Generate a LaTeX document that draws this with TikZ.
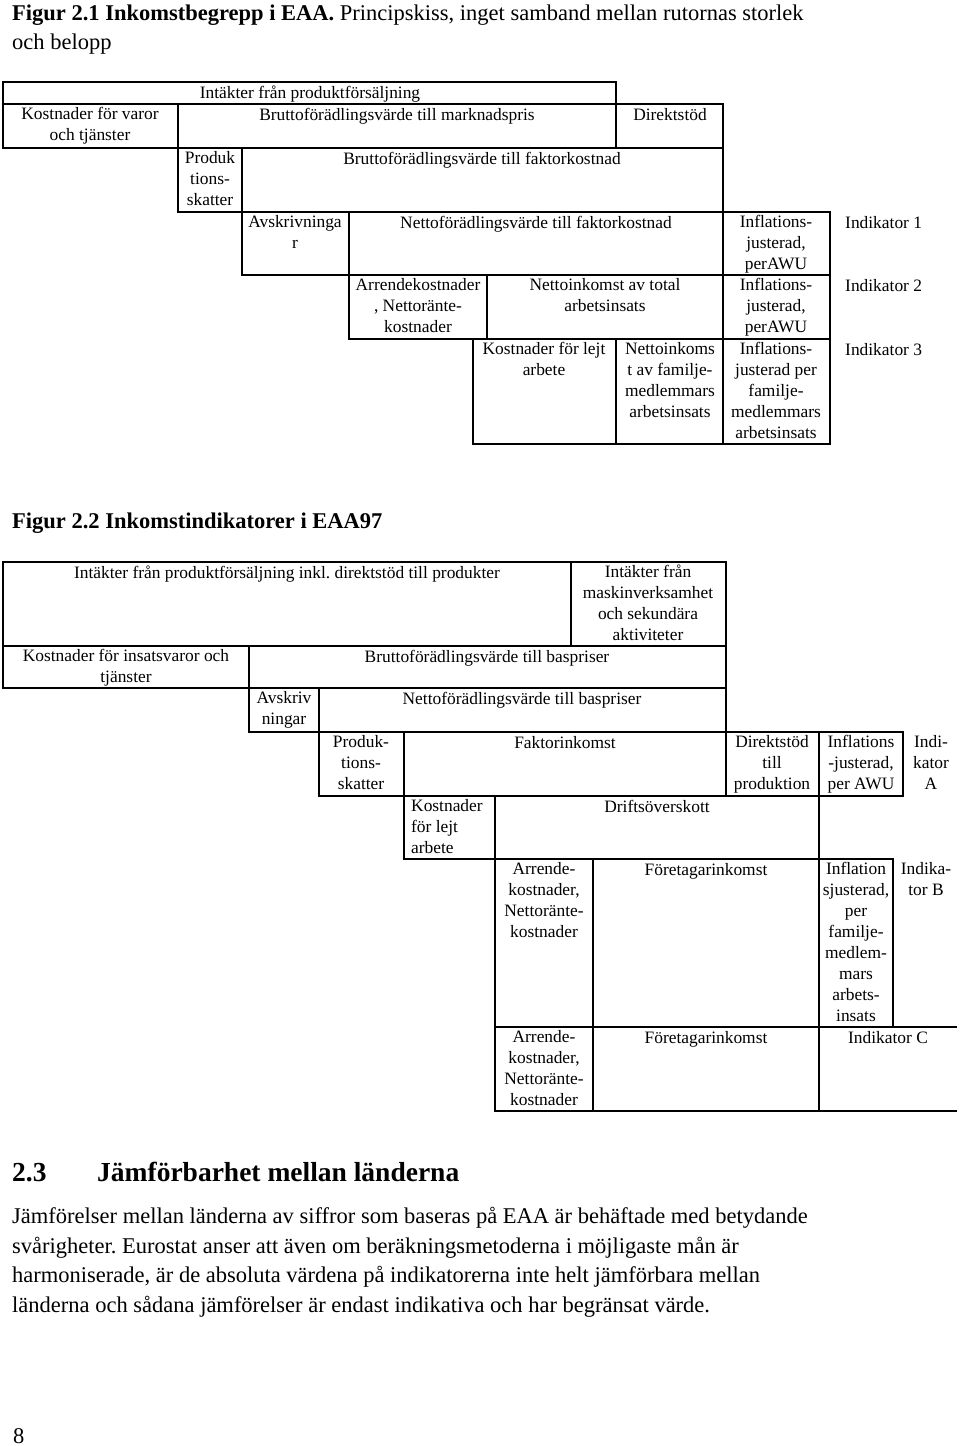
\documentclass[tikz,border=0pt]{standalone}
\usepackage{fontspec}
\setmainfont{Liberation Serif}
\frenchspacing
\usetikzlibrary{positioning}
\tikzstyle{box} = [line width=1.7pt]
\tikzstyle{celltext} = [font=\fontsize{17.4}{21}\selectfont, align=center, anchor=north, inner sep=0pt, execute at begin node=\rule{0pt}{13pt}]
\tikzstyle{pagetext} = [font=\fontsize{22.5}{29.7}\selectfont, anchor=base west, inner sep=0pt]

\begin{document}
\begin{tikzpicture}[x=1pt, y=-1pt]
        \useasboundingbox (0,0) rectangle (960,1446);

        % page texts
        \node[pagetext](title1) at (12,20) {\textbf{Figur 2.1 Inkomstbegrepp i EAA.} Principskiss, inget samband mellan rutornas storlek};
        \node[pagetext](title1b) at (12,49) {och belopp};
        \node[pagetext](title2) at (12,528) {\textbf{Figur 2.2 Inkomstindikatorer i EAA97}};

        % figure 2.1, boxes
        \draw[box] (3,82) rectangle (616,104);
        \draw[box] (3,104) rectangle (178,148);
        \draw[box] (178,104) rectangle (616,148);
        \draw[box] (616,104) rectangle (723,148);
        \draw[box] (178,148) rectangle (242,212);
        \draw[box] (242,148) rectangle (723,212);
        \draw[box] (242,212) rectangle (349,275);
        \draw[box] (349,212) rectangle (723,275);
        \draw[box] (723,212) rectangle (830,275);
        \draw[box] (349,275) rectangle (487,339);
        \draw[box] (487,275) rectangle (723,339);
        \draw[box] (723,275) rectangle (830,339);
        \draw[box] (473,339) rectangle (616,444);
        \draw[box] (616,339) rectangle (723,444);
        \draw[box] (723,339) rectangle (830,444);

        % figure 2.1, texts
        \node[celltext](intakt) at (310,85) {Intäkter från produktförsäljning};
        \node[celltext](varor) at (90,107) {Kostnader för varor\\och tjänster};
        \node[celltext](bfvmp) at (397,107) {Bruttoförädlingsvärde till marknadspris};
        \node[celltext](dstod) at (670,107) {Direktstöd};
        \node[celltext](pskatt) at (210,151) {Produk\\tions-\\skatter};
        \node[celltext](bfvfk) at (482,151) {Bruttoförädlingsvärde till faktorkostnad};
        \node[celltext](avskr) at (295,215) {Avskrivninga\\r};
        \node[celltext](nfvfk) at (536,215) {Nettoförädlingsvärde till faktorkostnad};
        \node[celltext](infl1) at (776,215) {Inflations-\\justerad,\\perAWU};
        \node[celltext](arr) at (418,278) {Arrendekostnader\\, Nettoränte-\\kostnader};
        \node[celltext](nitot) at (605,278) {Nettoinkomst av total\\arbetsinsats};
        \node[celltext](infl2) at (776,278) {Inflations-\\justerad,\\perAWU};
        \node[celltext](lejt) at (544,342) {Kostnader för lejt\\arbete};
        \node[celltext](nifam) at (670,342) {Nettoinkoms\\t av familje-\\medlemmars\\arbetsinsats};
        \node[celltext](infl3) at (776,342) {Inflations-\\justerad per\\familje-\\medlemmars\\arbetsinsats};

        % indicators for figure 2.1
        \node[celltext, anchor=north west](ind1) at (845,215) {Indikator 1};
        \node[celltext, anchor=north west](ind2) at (845,278) {Indikator 2};
        \node[celltext, anchor=north west](ind3) at (845,342) {Indikator 3};

        % figure 2.2, boxes
        \draw[box] (3,562) rectangle (571,646);
        \draw[box] (571,562) rectangle (726,646);
        \draw[box] (3,646) rectangle (249,688);
        \draw[box] (249,646) rectangle (726,688);
        \draw[box] (249,688) rectangle (319,732);
        \draw[box] (319,688) rectangle (726,732);
        \draw[box] (319,732) rectangle (404,796);
        \draw[box] (404,732) rectangle (726,796);
        \draw[box] (726,732) rectangle (819,796);
        \draw[box] (819,732) rectangle (903,796);
        \draw[box] (404,796) rectangle (495,859);
        \draw[box] (495,796) rectangle (819,859);
        \draw[box] (495,859) rectangle (593,1027);
        \draw[box] (593,859) rectangle (819,1027);
        \draw[box] (819,859) rectangle (893,1027);
        \draw[box] (495,1027) rectangle (593,1111);
        \draw[box] (593,1027) rectangle (819,1111);
        \draw[box] (957,1027) -- (819,1027) -- (819,1111) -- (957,1111);

        % figure 2.2, texts
        \node[celltext](intinkl) at (287,565) {Intäkter från produktförsäljning inkl. direktstöd till produkter};
        \node[celltext](intmask) at (648,565) {Intäkter från\\maskinverksamhet\\och sekundära\\aktiviteter};
        \node[celltext](insats) at (126,649) {Kostnader för insatsvaror och\\tjänster};
        \node[celltext](bfvbp) at (487,649) {Bruttoförädlingsvärde till baspriser};
        \node[celltext](avskrb) at (284,691) {Avskriv\\ningar};
        \node[celltext](nfvbp) at (522,691) {Nettoförädlingsvärde till baspriser};
        \node[celltext](pskattb) at (361,735) {Produk-\\tions-\\skatter};
        \node[celltext](faktor) at (565,735) {Faktorinkomst};
        \node[celltext](dstodp) at (772,735) {Direktstöd\\till\\produktion};
        \node[celltext](inflA) at (861,735) {Inflations\\-justerad,\\per AWU};
        \node[celltext, anchor=north west, align=left](lejtb) at (411,799) {Kostnader\\för lejt\\arbete};
        \node[celltext](drift) at (657,799) {Driftsöverskott};
        \node[celltext](arrB) at (544,862) {Arrende-\\kostnader,\\Nettoränte-\\kostnader};
        \node[celltext](foretB) at (706,862) {Företagarinkomst};
        \node[celltext](inflB) at (856,862) {Inflation\\sjusterad,\\per\\familje-\\medlem-\\mars\\arbets-\\insats};
        \node[celltext](arrC) at (544,1030) {Arrende-\\kostnader,\\Nettoränte-\\kostnader};
        \node[celltext](foretC) at (706,1030) {Företagarinkomst};

        % indicators for figure 2.2
        \node[celltext](indA) at (931,735) {Indi-\\kator\\A};
        \node[celltext](indB) at (926,862) {Indika-\\tor B};
        \node[celltext](indC) at (888,1030) {Indikator C};

        % section 2.3
        \node[pagetext, font=\fontsize{27.5}{33}\selectfont\bfseries](secnum) at (12,1181) {2.3};
        \node[pagetext, font=\fontsize{27.5}{33}\selectfont\bfseries](sectitle) at (97,1181) {Jämförbarhet mellan länderna};
        \node[pagetext](body1) at (12,1223) {Jämförelser mellan länderna av siffror som baseras på EAA är behäftade med betydande};
        \node[pagetext](body2) at (12,1253) {svårigheter. Eurostat anser att även om beräkningsmetoderna i möjligaste mån är};
        \node[pagetext](body3) at (12,1282) {harmoniserade, är de absoluta värdena på indikatorerna inte helt jämförbara mellan};
        \node[pagetext](body4) at (12,1312) {länderna och sådana jämförelser är endast indikativa och har begränsat värde.};
        \node[pagetext](pagenum) at (13,1443) {8};
\end{tikzpicture}
\end{document}
